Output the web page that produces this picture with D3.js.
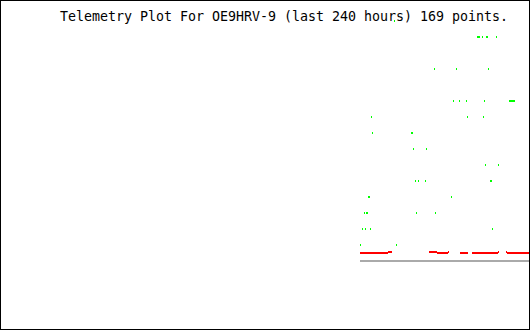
<!DOCTYPE html>
<html>
<head>
<meta charset="utf-8">
<script src="https://cdn.jsdelivr.net/npm/d3@7/dist/d3.min.js"></script>
<style>
  html, body { margin: 0; padding: 0; background: #fff; }
  svg { display: block; }
</style>
</head>
<body>
<svg id="chart" width="530" height="330"></svg>
<script>
// ---- Data (time offset units along the plotted window, telemetry value levels) ----
const titleText = "Telemetry Plot For OE9HRV-9 (last 240 hours) 169 points.";

// Green channel samples: time offset and value
const greenTimes = [
  34,
  117, 118, 119, 122, 126, 127, 136,
  74, 96, 128,
  93, 99, 106, 124, 149, 150, 151, 152, 153, 154,
  11, 107, 123,
  12, 51, 52,
  53, 66,
  125, 138,
  55, 58, 65, 130, 131,
  8, 9, 91,
  4, 6, 7, 56, 75,
  2, 5, 10, 132,
  0, 36
];
const greenValues = [
  15,
  14, 14, 14, 14, 14, 14, 14,
  12, 12, 12,
  10, 10, 10, 10, 10, 10, 10, 10, 10, 10,
  9, 9, 9,
  8, 8, 8,
  7, 7,
  6, 6,
  5, 5, 5, 5, 5,
  4, 4, 4,
  3, 3, 3, 3, 3,
  2, 2, 2, 2,
  1, 1
];

// Red channel runs: start time, end time, value
const redStart = [0, 28, 69, 77, 88, 100, 112, 138, 146, 147];
const redEnd   = [28, 32, 77, 88, 89, 108, 138, 139, 147, 170];
const redValue = [0.5, 0.5625, 0.5625, 0.5, 0.5625, 0.5, 0.5, 0.5625, 0.5625, 0.5];

// Baseline span
const baseStart = 0, baseEnd = 170, baseValue = 0;

// ---- Drawing ----
const W = 530, H = 330;
const svg = d3.select("#chart");

const x = d3.scaleLinear().domain([0, 170]).range([360, 530]);
const y = d3.scaleLinear().domain([0, 15]).range([261, 21]);

svg.append("defs").append("clipPath").attr("id", "clip")
  .append("rect").attr("x", 1).attr("y", 1).attr("width", W - 2).attr("height", H - 2);

const g = svg.append("g").attr("clip-path", "url(#clip)").attr("shape-rendering", "crispEdges");

// title
svg.append("text")
  .attr("x", 60).attr("y", 21)
  .attr("font-family", "'DejaVu Sans Mono', monospace")
  .attr("font-size", 13.3)
  .attr("fill", "#000")
  .attr("textLength", 448)
  .attr("lengthAdjust", "spacing")
  .text(titleText);

// baseline
g.append("rect")
  .attr("x", x(baseStart)).attr("width", x(baseEnd) - x(baseStart))
  .attr("y", y(baseValue) - 1).attr("height", 2)
  .attr("fill", "#aaaaaa");

// red runs
const redData = redStart.map((s, i) => ({ s, e: redEnd[i], v: redValue[i] }));
g.selectAll("rect.red").data(redData).enter().append("rect")
  .attr("class", "red")
  .attr("x", d => x(d.s)).attr("width", d => x(d.e) - x(d.s))
  .attr("y", d => Math.round(y(d.v)) - 1).attr("height", 2)
  .attr("fill", "#ff0000");

// green samples
const greenData = greenTimes.map((t, i) => ({ t, v: greenValues[i] }));
g.selectAll("rect.green").data(greenData).enter().append("rect")
  .attr("class", "green")
  .attr("x", d => x(d.t)).attr("width", 1)
  .attr("y", d => y(d.v) - 1).attr("height", 2)
  .attr("fill", "#00ff00");

// border
svg.append("rect")
  .attr("x", 0.5).attr("y", 0.5).attr("width", W - 1).attr("height", H - 1)
  .attr("fill", "none").attr("stroke", "#000").attr("stroke-width", 1);
</script>
</body>
</html>
